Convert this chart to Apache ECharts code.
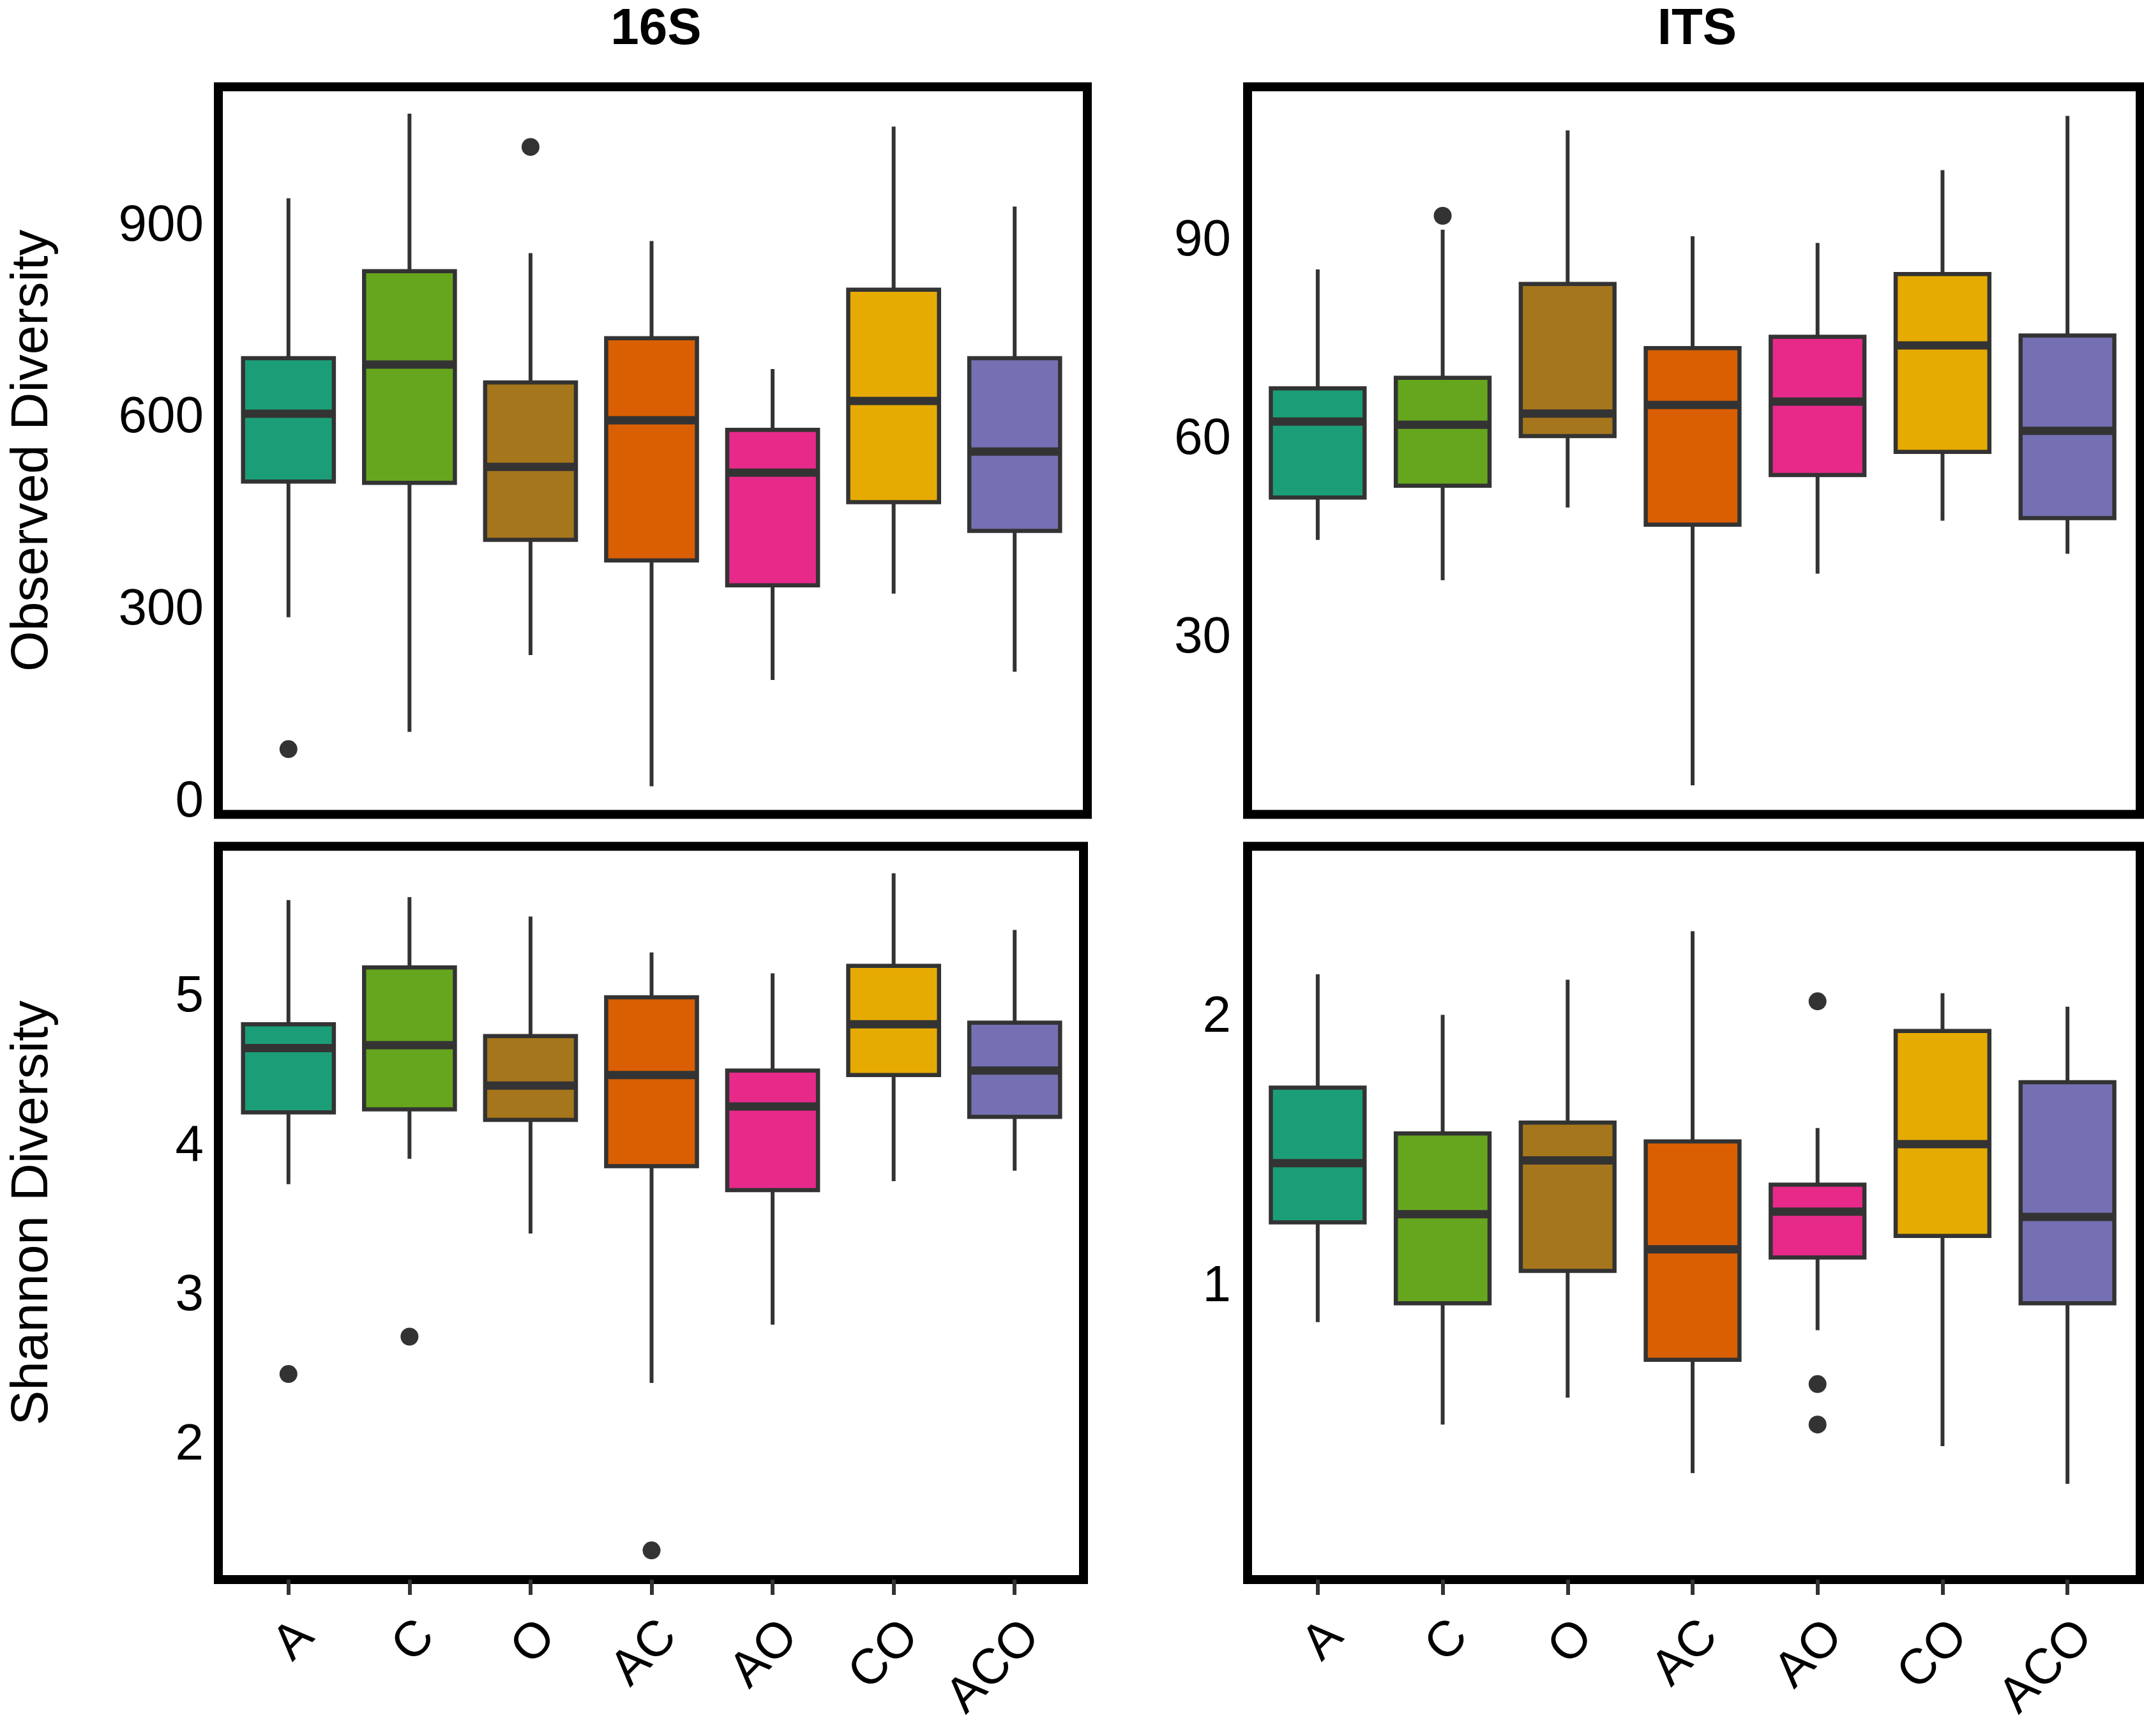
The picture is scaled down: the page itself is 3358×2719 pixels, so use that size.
<!DOCTYPE html>
<html>
<head>
<meta charset="utf-8">
<script src="https://cdn.jsdelivr.net/npm/echarts@6/dist/echarts.min.js"></script>
<style>
  html, body { margin: 0; padding: 0; background: #fff; }
  #chart { width: 3358px; height: 2719px; }
</style>
</head>
<body>
<div id="chart"></div>
<script>
const groups = ['A', 'C', 'O', 'AC', 'AO', 'CO', 'ACO'];
const groupColors = ['#1B9E77', '#66A61E', '#A6761D', '#D95F02', '#E7298A', '#E6AB02', '#7570B3'];

// box stats per group: [min, Q1, median, Q3, max]
const obs16S = [
  [289, 501, 607, 694, 944],
  [110, 499, 684, 830, 1076],
  [230, 410, 524, 656, 858],
  [25, 378, 597, 725, 877],
  [191, 339, 515, 582, 677],
  [326, 469, 627, 801, 1056],
  [204, 424, 548, 694, 931]
];
// outliers: [group index, value]
const obs16SOutliers = [[0, 83], [2, 1024]];
const obs16STicks = [0, 300, 600, 900];

const obsITS = [
  [44.9, 51.3, 62.8, 67.8, 85.8],
  [38.8, 53.1, 62.3, 69.4, 91.8],
  [49.8, 60.6, 64.0, 83.6, 106.8],
  [7.8, 47.2, 65.3, 73.9, 90.8],
  [39.8, 54.7, 65.8, 75.6, 89.8],
  [47.8, 58.2, 74.3, 85.1, 100.8],
  [42.8, 48.2, 61.4, 75.8, 109.0]
];
const obsITSOutliers = [[1, 93.9]];
const obsITSTicks = [30, 60, 90];

const shannon16S = [
  [3.75, 4.23, 4.66, 4.82, 5.65],
  [3.92, 4.25, 4.68, 5.20, 5.67],
  [3.42, 4.18, 4.41, 4.74, 5.54],
  [2.42, 3.87, 4.48, 5.00, 5.30],
  [2.81, 3.71, 4.27, 4.51, 5.16],
  [3.77, 4.48, 4.82, 5.21, 5.83],
  [3.84, 4.20, 4.51, 4.83, 5.45]
];
const shannon16SOutliers = [[0, 2.48], [1, 2.73], [3, 1.30]];
const shannon16STicks = [2, 3, 4, 5];

const shannonITS = [
  [0.87, 1.24, 1.46, 1.74, 2.16],
  [0.49, 0.94, 1.27, 1.57, 2.01],
  [0.59, 1.06, 1.47, 1.61, 2.14],
  [0.31, 0.73, 1.14, 1.54, 2.32],
  [0.84, 1.11, 1.28, 1.38, 1.59],
  [0.41, 1.19, 1.53, 1.95, 2.09],
  [0.27, 0.94, 1.26, 1.76, 2.04]
];
const shannonITSOutliers = [[4, 2.06], [4, 0.64], [4, 0.49]];
const shannonITSTicks = [1, 2];

const colTitles = ['16S', 'ITS'];
const rowTitles = ['Observed Diversity', 'Shannon Diversity'];

const font = '"Liberation Sans", Arial, Helvetica, sans-serif';

// panel layout (px): frame box and inner category range
const panels = [
  { stats: obs16S, out: obs16SOutliers, ticks: obs16STicks, min: -19, max: 1118,
    frame: [342, 136, 1703, 1275.5], band: [357, 1684], bottom: false, yName: rowTitles[0] },
  { stats: obsITS, out: obsITSOutliers, ticks: obsITSTicks, min: 3.4, max: 113.4,
    frame: [1954, 136, 3352, 1275.5], band: [1966, 3336], bottom: false, yName: '' },
  { stats: shannon16S, out: shannon16SOutliers, ticks: shannon16STicks, min: 1.105, max: 6.01,
    frame: [342, 1325.5, 1697, 2474], band: [357, 1684], bottom: true, yName: rowTitles[1] },
  { stats: shannonITS, out: shannonITSOutliers, ticks: shannonITSTicks, min: -0.085, max: 2.635,
    frame: [1954, 1325.5, 3352, 2474], band: [1966, 3336], bottom: true, yName: '' }
];

function renderBox(params, api) {
  const k = api.value(0);
  const lo = api.coord([k, api.value(1)]);
  const q1 = api.coord([k, api.value(2)]);
  const md = api.coord([k, api.value(3)]);
  const q3 = api.coord([k, api.value(4)]);
  const hi = api.coord([k, api.value(5)]);
  const w = api.size([1, 0])[0] * 0.75;
  const x = md[0];
  const stroke = '#333333';
  return {
    type: 'group',
    children: [
      { type: 'line', shape: { x1: x, y1: q3[1], x2: x, y2: hi[1] }, style: { stroke: stroke, lineWidth: 6 } },
      { type: 'line', shape: { x1: x, y1: q1[1], x2: x, y2: lo[1] }, style: { stroke: stroke, lineWidth: 6 } },
      { type: 'rect', shape: { x: x - w / 2, y: q3[1], width: w, height: q1[1] - q3[1] },
        style: { fill: groupColors[params.dataIndex], stroke: stroke, lineWidth: 6.5 } },
      { type: 'line', shape: { x1: x - w / 2, y1: md[1], x2: x + w / 2, y2: md[1] }, style: { stroke: stroke, lineWidth: 13 } }
    ]
  };
}

const option = {
  animation: false,
  backgroundColor: '#fff',
  title: colTitles.map((t, i) => ({
    text: t,
    left: (panels[i].frame[0] + panels[i].frame[2]) / 2,
    top: 2,
    textAlign: 'center',
    textStyle: { fontSize: 80, fontWeight: 'bold', color: '#000', fontFamily: font }
  })),
  grid: [],
  xAxis: [],
  yAxis: [],
  series: []
};

panels.forEach((p) => {
  const h = p.frame[3] - p.frame[1];
  // frame
  const fi = option.grid.length;
  option.grid.push({
    left: p.frame[0], top: p.frame[1], width: p.frame[2] - p.frame[0], height: h,
    show: true, borderColor: '#000', borderWidth: 14, backgroundColor: 'transparent'
  });
  option.xAxis.push({ gridIndex: fi, type: 'value', show: false });
  option.yAxis.push({ gridIndex: fi, type: 'value', show: false });

  // data
  const di = option.grid.length;
  option.grid.push({ left: p.band[0], top: p.frame[1], width: p.band[1] - p.band[0], height: h });
  option.xAxis.push({
    gridIndex: di,
    type: 'category',
    data: groups,
    axisLine: { show: false, onZero: false },
    axisTick: { show: p.bottom, alignWithLabel: true, length: 24, lineStyle: { color: '#333', width: 6 } },
    axisLabel: {
      show: p.bottom, interval: 0, rotate: 45, margin: 50,
      align: 'right', verticalAlign: 'top',
      fontSize: 78, color: '#000', fontFamily: font
    },
    splitLine: { show: false }
  });
  option.yAxis.push({
    gridIndex: di,
    type: 'value',
    min: p.min,
    max: p.max,
    name: p.yName,
    nameLocation: 'middle',
    nameGap: 265,
    nameTextStyle: { fontSize: 82, color: '#000', fontFamily: font },
    axisLine: { show: false, onZero: false },
    axisTick: { show: false },
    splitLine: { show: false },
    axisLabel: { fontSize: 80, color: '#000', fontFamily: font, margin: 38, customValues: p.ticks }
  });

  option.series.push({
    type: 'custom',
    xAxisIndex: di,
    yAxisIndex: di,
    data: p.stats.map((s, k) => [k].concat(s)),
    encode: { x: 0, y: [1, 2, 3, 4, 5] },
    renderItem: renderBox
  });
  option.series.push({
    type: 'scatter',
    xAxisIndex: di,
    yAxisIndex: di,
    data: p.out,
    symbol: 'circle',
    symbolSize: 28,
    itemStyle: { color: '#333333', opacity: 1 },
    z: 3
  });
});

const chart = echarts.init(document.getElementById('chart'), null, { renderer: 'canvas' });
chart.setOption(option);
</script>
</body>
</html>
